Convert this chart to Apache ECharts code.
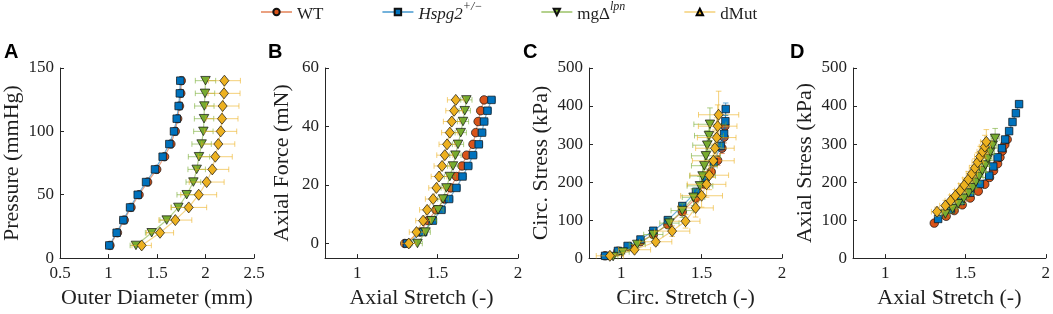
<!DOCTYPE html>
<html>
<head>
<meta charset="utf-8">
<script src="https://cdn.jsdelivr.net/npm/echarts@6/dist/echarts.min.js"></script>
<style>
html,body{margin:0;padding:0;background:#fff;}
#chart{width:1053px;height:314px;}
</style>
</head>
<body>
<div id="chart"></div>
<script>
// ---------------- DATA ----------------
const seriesNames = ['WT', 'Hspg2', 'mg', 'dMut'];

// Panel A: Pressure (mmHg) vs Outer Diameter (mm)
const A_pressure = [10,20,30,40,50,60,70,80,90,100,110,120,130,140];
const A_od_WT  = [1.015,1.092,1.162,1.232,1.315,1.403,1.497,1.578,1.643,1.688,1.713,1.732,1.745,1.750];
const A_od_HS  = [1.008,1.084,1.153,1.222,1.301,1.387,1.479,1.558,1.627,1.675,1.703,1.723,1.735,1.740];
const A_od_MG  = [1.283,1.445,1.600,1.720,1.806,1.875,1.909,1.933,1.960,1.978,1.985,1.988,1.995,2.000];
const A_od_DM  = [1.342,1.531,1.689,1.827,1.930,2.012,2.070,2.101,2.132,2.157,2.170,2.177,2.191,2.195];
const A_odErr_WT = [0.008,0.008,0.008,0.008,0.008,0.008,0.008,0.008,0.008,0.008,0.008,0.008,0.008,0.008];
const A_odErr_HS = [0.008,0.008,0.008,0.008,0.008,0.008,0.008,0.008,0.008,0.008,0.008,0.008,0.008,0.008];
const A_odErr_MG = [0.060,0.065,0.070,0.070,0.100,0.076,0.090,0.110,0.100,0.100,0.100,0.100,0.100,0.105];
const A_odErr_DM = [0.100,0.140,0.170,0.185,0.185,0.180,0.170,0.175,0.170,0.165,0.165,0.168,0.165,0.165];

// Panel B: Axial Force (mN) vs Axial Stretch (-)
const B_force = [0,3.9,7.8,11.5,15.2,19.0,22.9,26.5,30.2,33.9,37.9,41.7,45.4,49.1];
const B_str_WT = [1.296,1.390,1.441,1.490,1.545,1.582,1.617,1.652,1.680,1.720,1.737,1.752,1.768,1.789];
const B_str_HS = [1.310,1.410,1.470,1.524,1.571,1.617,1.655,1.690,1.720,1.756,1.776,1.789,1.810,1.835];
const B_str_MG = [1.375,1.425,1.462,1.503,1.534,1.555,1.576,1.596,1.611,1.627,1.644,1.658,1.669,1.679];
const B_str_DM = [1.321,1.369,1.410,1.435,1.472,1.493,1.509,1.528,1.545,1.559,1.576,1.588,1.603,1.613];
const B_strErr_WT = [0.012,0.012,0.012,0.012,0.012,0.012,0.012,0.012,0.012,0.012,0.012,0.012,0.012,0.012];
const B_strErr_HS = [0.025,0.025,0.025,0.025,0.025,0.025,0.025,0.025,0.025,0.025,0.025,0.025,0.025,0.025];
const B_strErr_MG = [0.030,0.030,0.032,0.032,0.033,0.033,0.034,0.034,0.035,0.035,0.035,0.035,0.035,0.035];
const B_strErr_DM = [0.045,0.045,0.046,0.047,0.048,0.048,0.049,0.050,0.050,0.050,0.051,0.052,0.052,0.052];

// Panel C: Circ. Stress (kPa) vs Circ. Stretch (-)
const C_str_WT = [0.900,0.980,1.050,1.120,1.200,1.290,1.380,1.465,1.520,1.560,1.600,1.627,1.640,1.645];
const C_sig_WT = [6,18,30,43,62,88,122,158,195,227,257,289,318,347];
const C_str_HS = [0.900,0.980,1.040,1.120,1.200,1.290,1.380,1.465,1.525,1.575,1.620,1.640,1.648,1.650];
const C_sig_HS = [6,19,32,49,72,100,137,174,212,252,295,327,360,392];
const C_str_MG = [0.950,1.010,1.100,1.200,1.300,1.380,1.450,1.490,1.506,1.517,1.527,1.535,1.546,1.552];
const C_sig_MG = [4,16,36,62,92,125,160,190,216,243,269,297,322,352];
const C_str_DM = [0.930,1.083,1.215,1.317,1.400,1.463,1.500,1.531,1.548,1.573,1.583,1.594,1.600,1.606];
const C_sig_DM = [6,22,43,71,97,132,164,194,218,256,289,317,347,377];
const C_strErr_WT = [0.010,0.010,0.010,0.010,0.010,0.012,0.012,0.012,0.012,0.012,0.012,0.012,0.012,0.012];
const C_sigErr_WT = [2,3,4,5,6,8,9,10,11,12,13,14,15,16];
const C_strErr_HS = [0.010,0.010,0.010,0.010,0.010,0.012,0.012,0.012,0.012,0.012,0.012,0.012,0.012,0.012];
const C_sigErr_HS = [2,3,4,5,6,8,9,10,11,12,13,14,15,16];
const C_strErr_MG = [0.030,0.040,0.050,0.060,0.060,0.070,0.070,0.080,0.080,0.080,0.090,0.090,0.090,0.100];
const C_sigErr_MG = [3,5,8,10,14,18,22,25,28,32,35,38,40,43];
const C_strErr_DM = [0.085,0.100,0.100,0.110,0.090,0.110,0.130,0.120,0.120,0.130,0.120,0.120,0.120,0.125];
const C_sigErr_DM = [4,7,10,14,18,24,30,34,38,44,48,52,56,62];

// Panel D: Axial Stress (kPa) vs Axial Stretch (-)
const D_str_WT = [1.306,1.380,1.430,1.480,1.530,1.580,1.620,1.650,1.675,1.700,1.715,1.730,1.745,1.760];
const D_sig_WT = [92,110,125,140,158,176,194,212,230,248,265,282,298,312];
const D_str_HS = [1.330,1.410,1.470,1.530,1.590,1.648,1.673,1.700,1.727,1.747,1.772,1.793,1.814,1.834];
const D_sig_HS = [103,128,150,172,195,217,241,265,289,312,334,358,381,405];
const D_str_MG = [1.375,1.420,1.455,1.490,1.520,1.545,1.565,1.585,1.605,1.625,1.640,1.655,1.670,1.685];
const D_sig_MG = [116,130,143,157,171,185,200,215,230,245,262,279,297,315];
const D_str_DM = [1.323,1.375,1.408,1.437,1.468,1.493,1.518,1.540,1.559,1.576,1.592,1.607,1.621,1.630];
const D_sig_DM = [122,138,151,164,178,192,207,222,237,252,267,280,293,306];
const D_strErr_WT = [0.012,0.012,0.012,0.012,0.012,0.012,0.012,0.012,0.012,0.012,0.012,0.012,0.012,0.012];
const D_sigErr_WT = [4,4,5,5,5,6,6,6,7,7,7,8,8,8];
const D_strErr_HS = [0.020,0.020,0.020,0.020,0.020,0.020,0.020,0.020,0.020,0.020,0.020,0.020,0.020,0.020];
const D_sigErr_HS = [4,4,5,5,5,6,6,6,7,7,7,8,8,8];
const D_strErr_MG = [0.025,0.025,0.025,0.025,0.025,0.025,0.025,0.025,0.025,0.025,0.025,0.025,0.025,0.025];
const D_sigErr_MG = [10,11,12,13,14,15,16,17,18,20,21,22,24,26];
const D_strErr_DM = [0.035,0.035,0.035,0.035,0.035,0.035,0.035,0.035,0.035,0.035,0.035,0.035,0.035,0.035];
const D_sigErr_DM = [12,14,15,16,18,19,21,22,24,25,27,28,30,32];

// Axis tick labels
const A_xTicks = [0.5,1,1.5,2,2.5];
const A_yTicks = [0,50,100,150];
const B_xTicks = [1,1.5,2];
const B_yTicks = [0,20,40,60];
const C_xTicks = [1,1.5,2];
const C_yTicks = [0,100,200,300,400,500];
const D_xTicks = [1,1.5,2];
const D_yTicks = [0,100,200,300,400,500];

// ---------------- STYLE ----------------
const SERIF = 'Liberation Serif';
const TXT = '#1f1f1f';
const AX = '#262626';
const STY = {
  WT:    {color:'#D95319', symbol:'circle', size:8.5},
  Hspg2: {color:'#0072BD', symbol:'rect', size:7.5},
  mg:    {color:'#77AC30', symbol:'path://M0,0 L10,0 L5,9 Z', size:[9.5,8.5]},
  dMut:  {color:'#EDB120', symbol:'diamond', size:[9,11]}
};
function rgba(hex, a){
  const n = parseInt(hex.slice(1),16);
  return 'rgba('+((n>>16)&255)+','+((n>>8)&255)+','+(n&255)+','+a+')';
}

function zip(xs, ys){ return xs.map((x,i)=>[x, ys[i]]); }
function zipErr(xs, ys, ex, ey){ return xs.map((x,i)=>[x, ys[i], ex ? ex[i] : 0, ey ? ey[i] : 0]); }

function errRenderer(color){
  return function(params, api){
    const x = api.value(0), y = api.value(1), ex = api.value(2), ey = api.value(3);
    const cap = 2.8;
    const st = {stroke: color, lineWidth: 1};
    const ch = [];
    if (ex > 0){
      const l = api.coord([x-ex, y]), r = api.coord([x+ex, y]);
      ch.push({type:'line', shape:{x1:l[0],y1:l[1],x2:r[0],y2:r[1]}, style:st});
      ch.push({type:'line', shape:{x1:l[0],y1:l[1]-cap,x2:l[0],y2:l[1]+cap}, style:st});
      ch.push({type:'line', shape:{x1:r[0],y1:r[1]-cap,x2:r[0],y2:r[1]+cap}, style:st});
    }
    if (ey > 0){
      const b = api.coord([x, y-ey]), t = api.coord([x, y+ey]);
      ch.push({type:'line', shape:{x1:b[0],y1:b[1],x2:t[0],y2:t[1]}, style:st});
      ch.push({type:'line', shape:{x1:b[0]-cap,y1:b[1],x2:b[0]+cap,y2:b[1]}, style:st});
      ch.push({type:'line', shape:{x1:t[0]-cap,y1:t[1],x2:t[0]+cap,y2:t[1]}, style:st});
    }
    return {type:'group', children: ch};
  };
}

const panels = [
  {grid:{left:60, top:68, width:194, height:192},
   x:{min:0.5,max:2.5,ticks:A_xTicks,name:'Outer Diameter (mm)'},
   y:{min:0,max:150,ticks:A_yTicks,name:'Pressure (mmHg)',gap:37},
   s:{WT:[A_od_WT,A_pressure,A_odErr_WT,null], Hspg2:[A_od_HS,A_pressure,A_odErr_HS,null],
      mg:[A_od_MG,A_pressure,A_odErr_MG,null], dMut:[A_od_DM,A_pressure,A_odErr_DM,null]},
   letter:'A', lx:4},
  {grid:{left:325, top:68, width:193, height:192},
   x:{min:0.8,max:2,ticks:B_xTicks,name:'Axial Stretch (-)'},
   y:{min:-5,max:60,ticks:B_yTicks,name:'Axial Force (mN)',gap:32},
   s:{WT:[B_str_WT,B_force,B_strErr_WT,null], Hspg2:[B_str_HS,B_force,B_strErr_HS,null],
      mg:[B_str_MG,B_force,B_strErr_MG,null], dMut:[B_str_DM,B_force,B_strErr_DM,null]},
   letter:'B', lx:268},
  {grid:{left:589, top:68, width:193, height:192},
   x:{min:0.8,max:2,ticks:C_xTicks,name:'Circ. Stretch (-)'},
   y:{min:0,max:500,ticks:C_yTicks,name:'Circ. Stress (kPa)',gap:37},
   s:{WT:[C_str_WT,C_sig_WT,C_strErr_WT,C_sigErr_WT], Hspg2:[C_str_HS,C_sig_HS,C_strErr_HS,C_sigErr_HS],
      mg:[C_str_MG,C_sig_MG,C_strErr_MG,C_sigErr_MG], dMut:[C_str_DM,C_sig_DM,C_strErr_DM,C_sigErr_DM]},
   letter:'C', lx:523},
  {grid:{left:853, top:68, width:193, height:192},
   x:{min:0.8,max:2,ticks:D_xTicks,name:'Axial Stretch (-)'},
   y:{min:0,max:500,ticks:D_yTicks,name:'Axial Stress (kPa)',gap:37},
   s:{WT:[D_str_WT,D_sig_WT,D_strErr_WT,D_sigErr_WT], Hspg2:[D_str_HS,D_sig_HS,D_strErr_HS,D_sigErr_HS],
      mg:[D_str_MG,D_sig_MG,D_strErr_MG,D_sigErr_MG], dMut:[D_str_DM,D_sig_DM,D_strErr_DM,D_sigErr_DM]},
   letter:'D', lx:790}
];

const grids = [], xAxes = [], yAxes = [], graphics = [];
// legend icon for dMut in the original is an up-triangle: dummy empty series declared first
const series = [{
  type:'line', name:'dMut', xAxisIndex:0, yAxisIndex:0, data:[],
  symbol:'triangle', symbolSize:8,
  itemStyle:{color:STY.dMut.color, borderColor:'#000', borderWidth:0.6},
  lineStyle:{color:rgba(STY.dMut.color,0.45), width:1.2}
}];

const axisCommon = {
  type:'value',
  axisLine:{show:true, onZero:false, lineStyle:{color:AX, width:1}},
  splitLine:{show:false},
  nameLocation:'middle',
  nameTextStyle:{fontFamily:SERIF, fontSize:22, color:TXT}
};

panels.forEach((p, i) => {
  grids.push(Object.assign({containLabel:false}, p.grid));
  xAxes.push(Object.assign({}, axisCommon, {
    gridIndex:i, min:p.x.min, max:p.x.max, name:p.x.name, nameGap:28,
    axisTick:{show:true, inside:true, length:4, lineStyle:{color:AX}, customValues:p.x.ticks},
    axisLabel:{fontFamily:SERIF, fontSize:17, color:TXT, margin:7, customValues:p.x.ticks}
  }));
  yAxes.push(Object.assign({}, axisCommon, {
    gridIndex:i, min:p.y.min, max:p.y.max, name:p.y.name, nameGap:p.y.gap,
    axisTick:{show:true, inside:true, length:4, lineStyle:{color:AX}, customValues:p.y.ticks},
    axisLabel:{fontFamily:SERIF, fontSize:17, color:TXT, margin:6, customValues:p.y.ticks}
  }));
  seriesNames.forEach((nm, k) => {
    const st = STY[nm];
    const d = p.s[nm];
    series.push({
      type:'custom', xAxisIndex:i, yAxisIndex:i, silent:true, z:10+k*2, clip:false,
      renderItem: errRenderer(rgba(st.color, 0.6)),
      data: zipErr(d[0], d[1], d[2], d[3])
    });
    series.push({
      type:'line', name:nm, xAxisIndex:i, yAxisIndex:i, z:11+k*2,
      data: zip(d[0], d[1]),
      symbol: st.symbol, symbolSize: st.size, showAllSymbol:true,
      itemStyle:{color:st.color, borderColor:'#111', borderWidth:0.7, opacity:1},
      lineStyle:{color:rgba(st.color,0.55), width:1.2},
      emphasis:{disabled:true}
    });
  });
  graphics.push({type:'text', left:p.lx, top:42,
    style:{text:p.letter, font:'bold 20px "Liberation Sans", Arial, sans-serif', fill:'#000'}});
});

const rich = {
  n:   {fontFamily:SERIF, fontSize:17, color:TXT, lineHeight:22, verticalAlign:'bottom'},
  it:  {fontFamily:SERIF, fontSize:17, color:TXT, fontStyle:'italic', lineHeight:22, verticalAlign:'bottom'},
  sup: {fontFamily:SERIF, fontSize:12, color:TXT, lineHeight:22, verticalAlign:'top'},
  supi:{fontFamily:SERIF, fontSize:12, color:TXT, fontStyle:'italic', lineHeight:22, verticalAlign:'top'}
};
const legendLabels = {
  WT:'{n|WT}',
  Hspg2:'{it|Hspg2}{supi|+/−}',
  mg:'{n|mgΔ}{supi|lpn}',
  dMut:'{n|dMut}'
};

const option = {
  animation:false,
  backgroundColor:'#fff',
  legend:{
    data:seriesNames, left:260, top:1, padding:0, itemGap:58, itemWidth:31, itemHeight:8,
    selectedMode:false,
    formatter:(name)=>legendLabels[name],
    textStyle:{fontFamily:SERIF, fontSize:17, color:TXT, rich:rich}
  },
  grid:grids, xAxis:xAxes, yAxis:yAxes, series:series, graphic:graphics
};

const chart = echarts.init(document.getElementById('chart'), null, {renderer:'canvas'});
chart.setOption(option);
</script>
</body>
</html>
